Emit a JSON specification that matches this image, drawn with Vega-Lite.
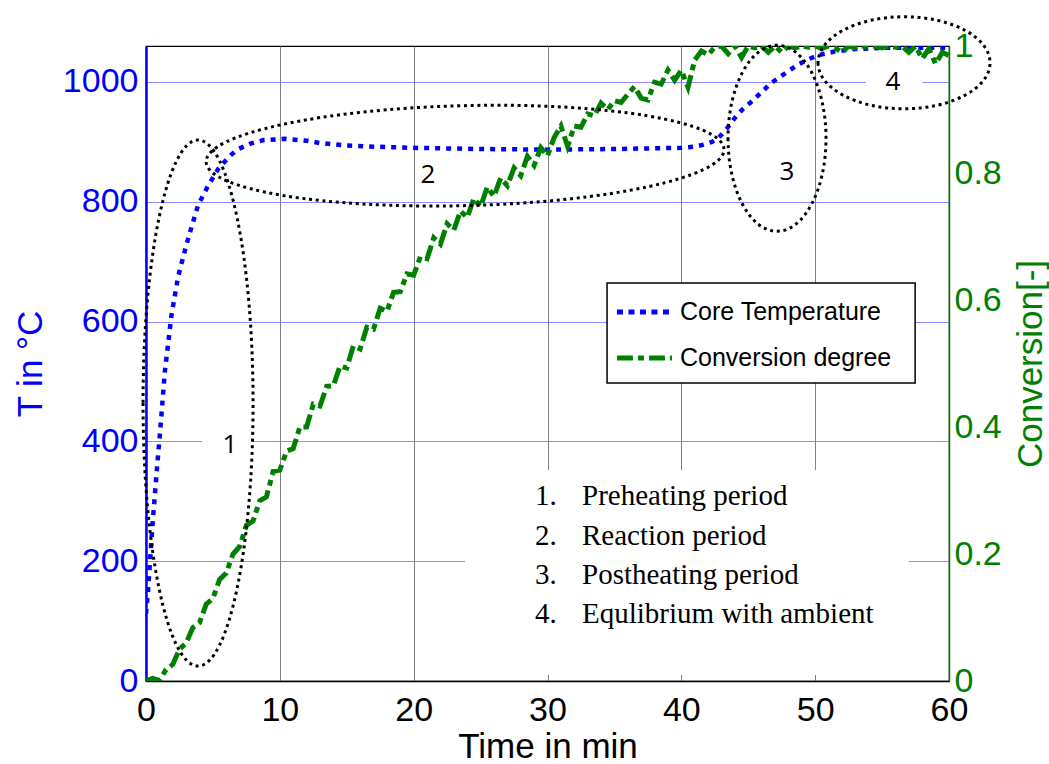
{
  "$schema": "https://vega.github.io/schema/vega-lite/v6.json",
  "width": 803,
  "height": 635,
  "autosize": {"type": "none"},
  "padding": {"left": 146, "top": 46, "right": 100, "bottom": 83},
  "background": "white",
  "config": {
    "view": {"stroke": "black", "strokeWidth": 1.2},
    "font": "Liberation Sans",
    "axis": {"labelFont": "Liberation Sans", "titleFont": "Liberation Sans", "labelFontSize": 34, "titleFontSize": 35, "titleFontWeight": "normal", "ticks": false},
    "axisBottom": {"domainColor": "black", "domainWidth": 1.5, "labelColor": "black", "titleColor": "black", "gridColor": "#808080", "gridWidth": 1, "labelPadding": 12, "titlePadding": 2, "labelFlush": false},
    "axisLeft": {"domainColor": "#0000ff", "domainWidth": 2.5, "labelColor": "#0000ff", "titleColor": "#0000ff", "gridColor": "#7070ff", "gridOpacity": 0.8, "gridWidth": 1, "labelPadding": 8, "titlePadding": 14},
    "axisRight": {"domainColor": "#008000", "domainWidth": 1.5, "labelColor": "#008000", "titleColor": "#008000", "grid": false, "labelPadding": 5, "titlePadding": 12, "titleAngle": 270, "titleBaseline": "top"}
  },
  "resolve": {"scale": {"y": "independent"}},
  "layer": [
    {
      "layer": [
        {
          "data": {"values": [
            {"t": 4.18, "t2": 7.92, "T": 370, "T2": 420},
            {"t": 53.8, "t2": 58.0, "T": 975, "T2": 1025},
            {"t": 23.84, "t2": 57.0, "T": 10, "T2": 352}
          ]},
          "mark": {"type": "rect", "fill": "white", "stroke": null},
          "encoding": {
            "x": {"field": "t", "type": "quantitative", "scale": {"domain": [0, 60], "nice": false}, "title": "Time in min", "axis": {"values": [0, 10, 20, 30, 40, 50, 60], "format": "d", "labelFlush": false}},
            "x2": {"field": "t2"},
            "y": {"field": "T", "type": "quantitative", "scale": {"domain": [0, 1060], "nice": false}, "title": "T in °C", "axis": {"values": [0, 200, 400, 600, 800, 1000], "format": "d"}},
            "y2": {"field": "T2"}
          }
        },
        {
          "data": {"values": [
            {"t": 0, "T": 112}, {"t": 0.15, "T": 150}, {"t": 0.3, "T": 200}, {"t": 0.5, "T": 265},
            {"t": 0.8, "T": 350}, {"t": 1.05, "T": 415}, {"t": 1.4, "T": 515}, {"t": 1.9, "T": 610},
            {"t": 2.4, "T": 675}, {"t": 2.9, "T": 718}, {"t": 3.3, "T": 750}, {"t": 3.9, "T": 795},
            {"t": 4.6, "T": 825}, {"t": 5.4, "T": 855}, {"t": 6.2, "T": 875}, {"t": 6.8, "T": 887},
            {"t": 7.8, "T": 897}, {"t": 8.8, "T": 903}, {"t": 10.4, "T": 905}, {"t": 12, "T": 902},
            {"t": 13, "T": 898}, {"t": 15, "T": 894}, {"t": 17, "T": 892}, {"t": 20, "T": 890},
            {"t": 25, "T": 888}, {"t": 30, "T": 887}, {"t": 35, "T": 888}, {"t": 40, "T": 890},
            {"t": 41, "T": 892}, {"t": 41.6, "T": 895}, {"t": 42.3, "T": 900}, {"t": 42.8, "T": 907},
            {"t": 43.4, "T": 922}, {"t": 44, "T": 940}, {"t": 44.6, "T": 955}, {"t": 45.3, "T": 968},
            {"t": 46, "T": 983}, {"t": 46.6, "T": 996}, {"t": 47.2, "T": 1006}, {"t": 47.8, "T": 1015},
            {"t": 48.8, "T": 1030}, {"t": 49.5, "T": 1038}, {"t": 50.3, "T": 1045}, {"t": 51.5, "T": 1051},
            {"t": 53, "T": 1055}, {"t": 55, "T": 1057}, {"t": 60, "T": 1057}
          ]},
          "mark": {"type": "line", "color": "#0000ff", "strokeWidth": 4.5, "strokeDash": [5, 6], "clip": true},
          "encoding": {
            "x": {"field": "t", "type": "quantitative", "scale": {"domain": [0, 60], "nice": false}, "title": "Time in min", "axis": {"values": [0, 10, 20, 30, 40, 50, 60], "format": "d", "labelFlush": false}},
            "y": {"field": "T", "type": "quantitative", "scale": {"domain": [0, 1060], "nice": false}, "title": "T in °C", "axis": {"values": [0, 200, 400, 600, 800, 1000], "format": "d"}}
          }
        }
      ]
    },
    {
      "data": {"values": [
        {"t": 0, "c": 0}, {"t": 0.5, "c": 0.004}, {"t": 1, "c": 0.001}, {"t": 1.5, "c": 0.018}, {"t": 2, "c": 0.026},
        {"t": 2.5, "c": 0.05}, {"t": 3, "c": 0.06}, {"t": 3.5, "c": 0.084}, {"t": 4, "c": 0.092}, {"t": 4.5, "c": 0.121},
        {"t": 5, "c": 0.13}, {"t": 5.5, "c": 0.16}, {"t": 6, "c": 0.17}, {"t": 6.5, "c": 0.2}, {"t": 7, "c": 0.212},
        {"t": 7.5, "c": 0.245}, {"t": 8, "c": 0.252}, {"t": 8.5, "c": 0.284}, {"t": 9, "c": 0.29}, {"t": 9.5, "c": 0.33},
        {"t": 10, "c": 0.332}, {"t": 10.5, "c": 0.362}, {"t": 11, "c": 0.366}, {"t": 11.5, "c": 0.4}, {"t": 12, "c": 0.4},
        {"t": 12.5, "c": 0.436}, {"t": 13, "c": 0.433}, {"t": 13.5, "c": 0.464}, {"t": 14, "c": 0.465}, {"t": 14.5, "c": 0.496},
        {"t": 15, "c": 0.493}, {"t": 15.5, "c": 0.528}, {"t": 16, "c": 0.523}, {"t": 16.5, "c": 0.557}, {"t": 17, "c": 0.554},
        {"t": 17.5, "c": 0.587}, {"t": 18, "c": 0.582}, {"t": 18.5, "c": 0.612}, {"t": 19, "c": 0.613}, {"t": 19.5, "c": 0.641},
        {"t": 20, "c": 0.639}, {"t": 20.5, "c": 0.668}, {"t": 21, "c": 0.665}, {"t": 21.5, "c": 0.698}, {"t": 22, "c": 0.688},
        {"t": 22.5, "c": 0.72}, {"t": 23, "c": 0.71}, {"t": 23.5, "c": 0.74}, {"t": 24, "c": 0.73}, {"t": 24.5, "c": 0.76},
        {"t": 25, "c": 0.747}, {"t": 25.5, "c": 0.778}, {"t": 26, "c": 0.763}, {"t": 26.5, "c": 0.792}, {"t": 27, "c": 0.78},
        {"t": 27.5, "c": 0.808}, {"t": 28, "c": 0.796}, {"t": 28.5, "c": 0.826}, {"t": 29, "c": 0.812}, {"t": 29.5, "c": 0.84},
        {"t": 30, "c": 0.827}, {"t": 30.5, "c": 0.856}, {"t": 31, "c": 0.874}, {"t": 31.5, "c": 0.842}, {"t": 32, "c": 0.874},
        {"t": 32.5, "c": 0.872}, {"t": 33, "c": 0.893}, {"t": 33.5, "c": 0.89}, {"t": 34, "c": 0.91}, {"t": 34.5, "c": 0.9},
        {"t": 35, "c": 0.914}, {"t": 35.5, "c": 0.911}, {"t": 36, "c": 0.924}, {"t": 36.5, "c": 0.936}, {"t": 37, "c": 0.918},
        {"t": 37.5, "c": 0.915}, {"t": 38, "c": 0.943}, {"t": 38.5, "c": 0.94}, {"t": 39, "c": 0.962}, {"t": 39.5, "c": 0.946},
        {"t": 40, "c": 0.962}, {"t": 40.5, "c": 0.935}, {"t": 41, "c": 0.978}, {"t": 41.5, "c": 0.992}, {"t": 42, "c": 0.986},
        {"t": 42.5, "c": 0.998}, {"t": 43, "c": 1.0}, {"t": 43.5, "c": 0.988}, {"t": 44, "c": 1.0}, {"t": 44.5, "c": 0.982},
        {"t": 45, "c": 1.0}, {"t": 45.5, "c": 0.997}, {"t": 46, "c": 1.0}, {"t": 46.5, "c": 0.99}, {"t": 47, "c": 1.0},
        {"t": 47.5, "c": 0.99}, {"t": 48, "c": 1.0}, {"t": 48.5, "c": 0.997}, {"t": 49, "c": 1.0}, {"t": 49.5, "c": 0.998},
        {"t": 50, "c": 1.0}, {"t": 50.5, "c": 0.996}, {"t": 51, "c": 1.0}, {"t": 51.5, "c": 0.997}, {"t": 52, "c": 0.99},
        {"t": 52.5, "c": 1.0}, {"t": 53, "c": 0.997}, {"t": 53.5, "c": 1.0}, {"t": 54, "c": 0.998}, {"t": 54.5, "c": 1.0},
        {"t": 55, "c": 0.997}, {"t": 55.5, "c": 1.0}, {"t": 56, "c": 0.998}, {"t": 56.5, "c": 1.0}, {"t": 57, "c": 0.99},
        {"t": 57.5, "c": 1.0}, {"t": 58, "c": 0.98}, {"t": 58.5, "c": 0.996}, {"t": 59, "c": 0.972}, {"t": 59.5, "c": 0.99},
        {"t": 60, "c": 0.985}
      ]},
      "mark": {"type": "line", "color": "#008000", "strokeWidth": 5, "strokeDash": [16, 5, 6, 5], "clip": true},
      "encoding": {
        "x": {"field": "t", "type": "quantitative", "scale": {"domain": [0, 60], "nice": false}, "title": "Time in min", "axis": {"values": [0, 10, 20, 30, 40, 50, 60], "format": "d", "labelFlush": false}},
        "y": {"field": "c", "type": "quantitative", "scale": {"domain": [0, 1], "nice": false}, "title": "Conversion[-]", "axis": {"orient": "right", "values": [0, 0.2, 0.4, 0.6, 0.8, 1], "format": "~g"}}
      }
    },
    {
      "layer": [
        {
          "data": {"values": [{"t": 3.89, "T": 464}]},
          "mark": {"type": "point", "shape": "M -55 0 A 55 263 0 1 0 55 0 A 55 263 0 1 0 -55 0 Z", "size": 4, "filled": false, "stroke": "black", "strokeWidth": 3, "strokeDash": [3, 3.7], "opacity": 1}
        },
        {
          "data": {"values": [{"t": 23.84, "T": 877}]},
          "mark": {"type": "point", "shape": "M -259 0 A 259 50 0 1 0 259 0 A 259 50 0 1 0 -259 0 Z", "size": 4, "angle": -1.4, "filled": false, "stroke": "black", "strokeWidth": 3, "strokeDash": [3, 3.7], "opacity": 1}
        },
        {
          "data": {"values": [{"t": 47.15, "T": 906}]},
          "mark": {"type": "point", "shape": "M -49 0 A 49 93 0 1 0 49 0 A 49 93 0 1 0 -49 0 Z", "size": 4, "filled": false, "stroke": "black", "strokeWidth": 3, "strokeDash": [3, 3.7], "opacity": 1}
        },
        {
          "data": {"values": [{"t": 56.64, "T": 1032}]},
          "mark": {"type": "point", "shape": "M -86 0 A 86 46 0 1 0 86 0 A 86 46 0 1 0 -86 0 Z", "size": 4, "filled": false, "stroke": "black", "strokeWidth": 3, "strokeDash": [3, 3.7], "opacity": 1}
        },
        {
          "data": {"values": [
            {"t": 6.28, "T": 394, "label": "1"},
            {"t": 21.07, "T": 844, "label": "2"},
            {"t": 47.9, "T": 850, "label": "3"},
            {"t": 55.82, "T": 1000, "label": "4"}
          ]},
          "mark": {"type": "text", "font": "Open Sans", "fontSize": 26, "color": "black", "align": "center", "baseline": "middle"},
          "encoding": {"text": {"field": "label"}}
        },
        {
          "data": {"values": [{"t": 34.45, "t2": 57.47, "T": 497.5, "T2": 664.4}]},
          "mark": {"type": "rect", "fill": "white", "stroke": "black", "strokeWidth": 1.5},
          "encoding": {"x2": {"field": "t2"}, "y2": {"field": "T2"}}
        },
        {
          "data": {"values": [{"t": 35.19, "T": 616}, {"t": 39.3, "T": 616}]},
          "mark": {"type": "line", "color": "#0000ff", "strokeWidth": 5, "strokeDash": [6, 5.5]}
        },
        {
          "data": {"values": [{"t": 35.19, "T": 539}, {"t": 39.3, "T": 539}]},
          "mark": {"type": "line", "color": "#008000", "strokeWidth": 5, "strokeDash": [16, 5, 6, 5]}
        },
        {
          "data": {"values": [
            {"t": 39.9, "T": 616, "label": "Core Temperature"},
            {"t": 39.9, "T": 539, "label": "Conversion degree"}
          ]},
          "mark": {"type": "text", "font": "Liberation Sans", "fontSize": 25, "color": "black", "align": "left", "baseline": "middle"},
          "encoding": {"text": {"field": "label"}}
        },
        {
          "data": {"values": [
            {"t": 29.07, "T": 309, "label": "1."},
            {"t": 29.07, "T": 242, "label": "2."},
            {"t": 29.07, "T": 177, "label": "3."},
            {"t": 29.07, "T": 112, "label": "4."}
          ]},
          "mark": {"type": "text", "font": "Liberation Serif", "fontSize": 29, "color": "black", "align": "left", "baseline": "middle"},
          "encoding": {"text": {"field": "label"}}
        },
        {
          "data": {"values": [
            {"t": 32.58, "T": 309, "label": "Preheating period"},
            {"t": 32.58, "T": 242, "label": "Reaction period"},
            {"t": 32.58, "T": 177, "label": "Postheating period"},
            {"t": 32.58, "T": 112, "label": "Equlibrium with ambient"}
          ]},
          "mark": {"type": "text", "font": "Liberation Serif", "fontSize": 29, "color": "black", "align": "left", "baseline": "middle"},
          "encoding": {"text": {"field": "label"}}
        }
      ],
      "encoding": {
        "x": {"field": "t", "type": "quantitative", "scale": {"domain": [0, 60], "nice": false}, "title": "Time in min", "axis": {"values": [0, 10, 20, 30, 40, 50, 60], "format": "d", "labelFlush": false}},
        "y": {"field": "T", "type": "quantitative", "scale": {"domain": [0, 1060], "nice": false}, "axis": null}
      }
    }
  ]
}
